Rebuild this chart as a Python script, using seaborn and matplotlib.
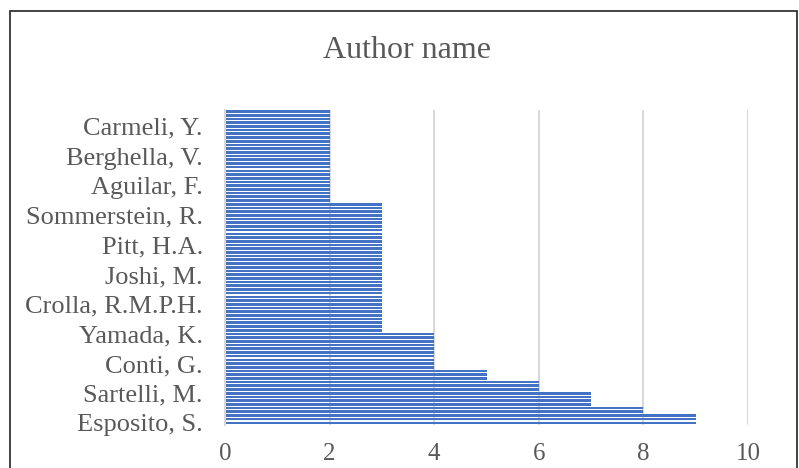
import matplotlib
matplotlib.use("Agg")
import matplotlib.pyplot as plt
import seaborn as sns
import pandas as pd
from matplotlib.patches import Rectangle

# Values read bottom (category 1) to top (category 85)
counts_bottom_up = [
    9, 9, 9, 8, 8, 7, 7, 7, 7, 6,
    6, 6, 5, 5, 5, 4, 4, 4, 4, 4,
    4, 4, 4, 4, 4, 3, 3, 3, 3, 3,
    3, 3, 3, 3, 3, 3, 3, 3, 3, 3,
    3, 3, 3, 3, 3, 3, 3, 3, 3, 3,
    3, 3, 3, 3, 3, 3, 3, 3, 3, 3,
    2, 2, 2, 2, 2, 2, 2, 2, 2, 2,
    2, 2, 2, 2, 2, 2, 2, 2, 2, 2,
    2, 2, 2, 2, 2,
]
# Visible author labels (every 8th category, starting from the bottom)
label_positions = [1, 9, 17, 25, 33, 41, 49, 57, 65, 73, 81]
label_names = ["Esposito, S.", "Sartelli, M.", "Conti, G.", "Yamada, K.",
               "Crolla, R.M.P.H.", "Joshi, M.", "Pitt, H.A.", "Sommerstein, R.",
               "Aguilar, F.", "Berghella, V.", "Carmeli, Y."]
x_ticks = [0, 2, 4, 6, 8, 10]
title = "Author name"

n = len(counts_bottom_up)
cat_ids = [f"a{i}" for i in range(1, n + 1)]
names = [""] * n
for p, nm in zip(label_positions, label_names):
    names[p - 1] = nm

df = pd.DataFrame({"cid": cat_ids, "count": counts_bottom_up, "name": names})
df = df.iloc[::-1].reset_index(drop=True)  # top to bottom

sns.set_theme(style="white")
plt.rcParams["font.family"] = ["Liberation Serif", "DejaVu Serif"]
text_col = "#595959"

W, H = 799, 468
fig = plt.figure(figsize=(W / 100, H / 100), dpi=100)
ax = fig.add_axes([225 / W, (H - 424.7) / H, (748 - 225) / W, (424.7 - 109.7) / H])

sns.barplot(data=df, x="count", y="cid", order=list(df["cid"]), orient="h",
            color="#4472C4", saturation=1, width=0.72, edgecolor="none",
            linewidth=0, ax=ax)

ax.set_xlim(0, 10)
ax.set_ylim(n - 0.5, -0.5)
ax.set_xticks(x_ticks)
ax.set_xticklabels([str(t) for t in x_ticks], color=text_col, fontsize=18)
ticks_y = [i for i, nm in enumerate(df["name"]) if nm]
ax.set_yticks(ticks_y)
ax.set_yticklabels([df["name"][i] for i in ticks_y], color=text_col, fontsize=19)
ax.tick_params(axis="both", length=0)
ax.tick_params(axis="y", pad=16)
ax.tick_params(axis="x", pad=13)
ax.set_xlabel("")
ax.set_ylabel("")
for t in x_ticks[1:]:
    ax.axvline(t, color="#d9d9d9", lw=1.5, zorder=0)
ax.set_axisbelow(True)
for s in ["top", "right", "bottom"]:
    ax.spines[s].set_visible(False)
ax.spines["left"].set_color("#d9d9d9")
ax.spines["left"].set_linewidth(1.5)

fig.text(407 / W, 1 - 51 / H, title, ha="center", va="center",
         fontsize=23, color=text_col)

fig.patches.append(Rectangle((10 / W, -0.05), (797 - 10) / W, 1 - 11 / H + 0.05,
                             transform=fig.transFigure, fill=False,
                             edgecolor="#222222", lw=1.2))

fig.savefig("out.png", dpi=100)
